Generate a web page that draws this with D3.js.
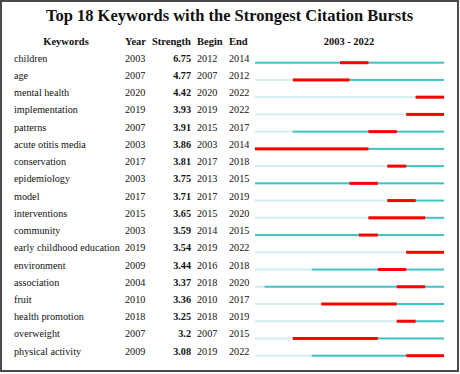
<!DOCTYPE html>
<html>
<head>
<meta charset="UTF-8">
<script src="https://d3js.org/d3.v7.min.js"></script>
<style>
  body { margin: 0; background: #fff; }
  svg text { font-family: "Times New Roman", Times, "Liberation Serif", "DejaVu Serif", serif; fill: #111; }
  .hdr { font-weight: bold; font-size: 10.5px; }
  .cell { font-size: 10.2px; }
  .strength { font-weight: bold; }
</style>
</head>
<body>
<svg id="chart"></svg>
<script>
  // data
  const keywords = ["children", "age", "mental health", "implementation", "patterns",
    "acute otitis media", "conservation", "epidemiology", "model", "interventions",
    "community", "early childhood education", "environment", "association", "fruit",
    "health promotion", "overweight", "physical activity"];
  const years     = [2003, 2007, 2020, 2019, 2007, 2003, 2017, 2003, 2017, 2015, 2003, 2019, 2009, 2004, 2010, 2018, 2007, 2009];
  const strengths = ["6.75", "4.77", "4.42", "3.93", "3.91", "3.86", "3.81", "3.75", "3.71", "3.65", "3.59", "3.54", "3.44", "3.37", "3.36", "3.25", "3.2", "3.08"];
  const begins    = [2012, 2007, 2020, 2019, 2015, 2003, 2017, 2013, 2017, 2015, 2014, 2019, 2016, 2018, 2010, 2018, 2007, 2019];
  const ends      = [2014, 2012, 2022, 2022, 2017, 2014, 2018, 2015, 2019, 2020, 2015, 2022, 2018, 2020, 2017, 2019, 2015, 2022];
  const firstYear = 2003, lastYear = 2022;

  const W = 460, H = 374;
  const svg = d3.select('#chart').attr('width', W).attr('height', H);

  // frame
  svg.append('rect')
    .attr('x', 1).attr('y', 1).attr('width', W - 3).attr('height', H - 4)
    .attr('fill', '#fff').attr('stroke', '#4a4a4a').attr('stroke-width', 2);

  // title
  svg.append('text')
    .attr('x', 229.5).attr('y', 21)
    .attr('text-anchor', 'middle')
    .style('font-weight', 'bold').style('font-size', '16.5px')
    .text('Top 18 Keywords with the Strongest Citation Bursts');

  const x = d3.scaleLinear().domain([firstYear, lastYear + 1]).range([255, 444]);
  const y = d3.scalePoint().domain(keywords).range([62.7, 355.7]);

  // headers
  const hy = 45;
  const hdr = svg.append('g').attr('class', 'hdr');
  hdr.append('text').attr('x', 66).attr('y', hy).attr('text-anchor', 'middle').text('Keywords');
  hdr.append('text').attr('x', 125).attr('y', hy).text('Year');
  hdr.append('text').attr('x', 152).attr('y', hy).text('Strength');
  hdr.append('text').attr('x', 197).attr('y', hy).text('Begin');
  hdr.append('text').attr('x', 229).attr('y', hy).text('End');
  hdr.append('text').attr('x', 349).attr('y', hy)
    .attr('text-anchor', 'middle').text(firstYear + ' - ' + lastYear);

  const rows = svg.selectAll('g.row')
    .data(keywords.map((k, i) => ({ k, year: years[i], s: strengths[i], b: begins[i], e: ends[i] })))
    .join('g')
    .attr('class', 'row cell')
    .attr('transform', d => `translate(0,${y(d.k)})`);

  rows.append('text').attr('x', 14).attr('y', -1).text(d => d.k);
  rows.append('text').attr('x', 125).attr('y', -1).text(d => d.year);
  rows.append('text').attr('class', 'strength').attr('x', 191).attr('y', -1)
    .attr('text-anchor', 'end').text(d => d.s);
  rows.append('text').attr('x', 197).attr('y', -1).text(d => d.b);
  rows.append('text').attr('x', 229).attr('y', -1).text(d => d.e);

  // timeline: light before keyword year, teal after, red burst
  rows.append('rect')
    .attr('x', x(firstYear)).attr('y', -1)
    .attr('width', d => x(d.year) - x(firstYear)).attr('height', 2)
    .attr('fill', '#d3eef0');
  rows.append('rect')
    .attr('x', d => x(d.year)).attr('y', -1)
    .attr('width', d => x(lastYear + 1) - x(d.year)).attr('height', 2)
    .attr('fill', '#3fc4c4');
  rows.append('rect')
    .attr('x', d => x(d.b)).attr('y', -1.5)
    .attr('width', d => x(d.e + 1) - x(d.b)).attr('height', 3)
    .attr('fill', '#ff0000');
</script>
</body>
</html>
